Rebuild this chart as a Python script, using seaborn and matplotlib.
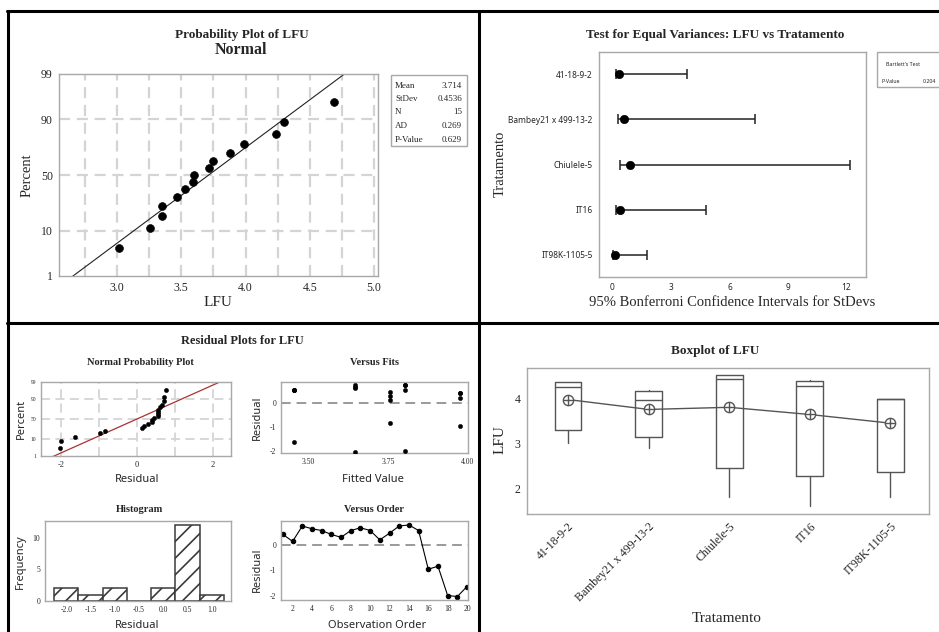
import matplotlib
matplotlib.use("Agg")
import matplotlib.pyplot as plt
from matplotlib.lines import Line2D
from matplotlib.patches import Rectangle
import numpy as np
import pandas as pd
import seaborn as sns
from statistics import NormalDist

# probability plot of LFU (N = 15)
lfu_values = [3.02, 3.26, 3.35, 3.35, 3.47, 3.53, 3.59, 3.60, 3.72, 3.75, 3.88, 3.99, 4.24, 4.30, 4.69]
lfu_mean = 3.714
lfu_sd = 0.4536
stat_names = ["Mean", "StDev", "N", "AD", "P-Value"]
stat_values = ["3.714", "0.4536", "15", "0.269", "0.629"]
pct_ticks = [1, 10, 50, 90, 99]

# test for equal variances
tratamentos = ["41-18-9-2", "Bambey21 x 499-13-2", "Chiulele-5", "IT16", "IT98K-1105-5"]
sd_low = [0.17, 0.26, 0.39, 0.17, 0.05]
sd_est = [0.34, 0.58, 0.92, 0.39, 0.13]
sd_high = [3.81, 7.30, 12.19, 4.80, 1.77]
bartlett_p = "0.204"

# observations in run order (residual plots + boxplot)
obs_lfu = [4.37, 3.88, 4.53, 4.26, 4.00,
           4.37, 4.04, 4.35, 4.30, 4.00,
           4.16, 4.20, 4.53, 4.41, 4.00,
           3.01, 2.91, 1.81, 1.61, 1.81]
obs_trat = tratamentos * 4

sns.set_style("white")
SERIF = ["Liberation Serif", "DejaVu Serif"]
SANS = ["Noto Sans", "DejaVu Sans"]
plt.rcParams["font.family"] = SERIF
plt.rcParams["axes.edgecolor"] = "#a8a8a8"
plt.rcParams["axes.linewidth"] = 1.0
plt.rcParams["axes.unicode_minus"] = False
plt.rcParams["hatch.linewidth"] = 1.2

nd = NormalDist()
def z(p):
    return nd.inv_cdf(p / 100.0)

W, H = 939, 632
fig = plt.figure(figsize=(W / 100, H / 100), dpi=100)

def axes_px(x0, y0, x1, y1):
    return fig.add_axes([x0 / W, 1 - y1 / H, (x1 - x0) / W, (y1 - y0) / H])

def text_px(x, y, s, **kw):
    kw.setdefault("ha", "center")
    kw.setdefault("va", "center")
    fig.text(x / W, 1 - y / H, s, **kw)

def ticks_style(ax, size, family=SERIF, length=2.5):
    ax.tick_params(axis="both", labelsize=size, length=length, width=0.8,
                   color="#777", pad=2, direction="out")
    for lab in ax.get_xticklabels() + ax.get_yticklabels():
        lab.set_family(family)

dash = (0, (5, 3))
grid_c = "#d4d4d4"

# ---------------- top-left: probability plot ----------------
ax = axes_px(59, 74, 378, 276)
vals = np.sort(lfu_values)
n = len(vals)
ranks = (np.arange(1, n + 1) - 0.3) / (n + 0.4)
zs = [nd.inv_cdf(r) for r in ranks]
for gx in np.arange(2.75, 5.01, 0.25):
    ax.axvline(gx, ls=dash, color=grid_c, lw=1.6, zorder=0)
for p in [10, 50, 90]:
    ax.axhline(z(p), ls=dash, color=grid_c, lw=1.6, zorder=0)
xl = np.array([2.4, 5.2])
ax.plot(xl, (xl - lfu_mean) / lfu_sd, color="#222", lw=0.8, zorder=2)
sns.scatterplot(x=vals, y=zs, ax=ax, color="black", s=32, edgecolor="black", zorder=3)
ax.set_xlim(2.55, 5.03)
ax.set_ylim(z(1), z(99))
ax.set_xticks([3.0, 3.5, 4.0, 4.5, 5.0], ["3.0", "3.5", "4.0", "4.5", "5.0"])
ax.set_yticks([z(p) for p in pct_ticks], [str(p) for p in pct_ticks])
ticks_style(ax, 8.5)
text_px(242, 35, "Probability Plot of LFU", fontsize=9.5, fontweight="bold")
text_px(241, 50, "Normal", fontsize=11.5, fontweight="bold")
text_px(27, 175, "Percent", fontsize=10.5, rotation=90)
text_px(218, 303, "LFU", fontsize=11)
fig.add_artist(Rectangle((391 / W, 1 - 146 / H), 76 / W, 71 / H, transform=fig.transFigure,
                         fill=False, edgecolor="#a8a8a8", lw=1))
for i, (nm, vv) in enumerate(zip(stat_names, stat_values)):
    yy = 85.5 + i * 13.5
    text_px(395, yy, nm, fontsize=6.5, ha="left")
    text_px(462, yy, vv, fontsize=6.5, ha="right")

# ---------------- top-right: test for equal variances ----------------
ax = axes_px(599, 52, 866, 277)
pos = np.arange(len(tratamentos))
ax.errorbar(sd_est, pos,
            xerr=[np.subtract(sd_est, sd_low), np.subtract(sd_high, sd_est)],
            fmt="none", ecolor="#222", elinewidth=1.1, capsize=3.5, capthick=1.1)
sns.scatterplot(x=sd_est, y=pos, ax=ax, color="black", s=36, edgecolor="black", zorder=3)
ax.set_ylim(len(tratamentos) - 0.51, -0.49)
ax.set_xlim(-0.69, 13.0)
ax.set_xticks([0, 3, 6, 9, 12])
ax.set_yticks(pos, tratamentos)
ticks_style(ax, 6, family=SANS)
text_px(715, 35, "Test for Equal Variances: LFU vs Tratamento", fontsize=9.5, fontweight="bold")
text_px(500, 164, "Tratamento", fontsize=10.5, rotation=90)
text_px(732, 303, "95% Bonferroni Confidence Intervals for StDevs", fontsize=10.5)
fig.add_artist(Rectangle((877 / W, 1 - 87 / H), 70 / W, 35 / H, transform=fig.transFigure,
                         fill=False, edgecolor="#a8a8a8", lw=1))
text_px(886, 65, "Bartlett's Test", fontsize=3.8, ha="left", family=SANS)
text_px(881, 81.5, "P-Value", fontsize=3.8, ha="left", family=SANS)
text_px(936, 81.5, bartlett_p, fontsize=3.8, ha="right", family=SANS)

# ---------------- bottom-left: residual plots ----------------
df = pd.DataFrame({"LFU": obs_lfu, "Tratamento": obs_trat, "Order": np.arange(1, len(obs_lfu) + 1)})
df["Fit"] = df.groupby("Tratamento")["LFU"].transform("mean")
df["Resid"] = df["LFU"] - df["Fit"]
text_px(242, 341, "Residual Plots for LFU", fontsize=9, fontweight="bold")

# normal probability plot of residuals
ax = axes_px(41, 382, 231, 456)
rs = np.sort(df["Resid"].values)
m = len(rs)
rr = (np.arange(1, m + 1) - 0.3) / (m + 0.4)
rz = [nd.inv_cdf(r) for r in rr]
for gx in [-2, -1, 0, 1, 2]:
    ax.axvline(gx, ls=dash, color=grid_c, lw=1.3, zorder=0)
for p in [10, 50, 90]:
    ax.axhline(z(p), ls=dash, color=grid_c, lw=1.3, zorder=0)
r_mu, r_sd = df["Resid"].mean(), df["Resid"].std()
xl = np.array([-3.0, 3.0])
ax.plot(xl, (xl - r_mu) / r_sd, color="#a83232", lw=0.9, zorder=2)
sns.scatterplot(x=rs, y=rz, ax=ax, color="black", s=10, edgecolor="black", zorder=3)
ax.set_xlim(-2.53, 2.48)
ax.set_ylim(z(1), z(99))
ax.set_xticks([-2, 0, 2])
ax.set_yticks([z(p) for p in pct_ticks], [str(p) for p in pct_ticks])
ticks_style(ax, 5, length=1.5)
ax.tick_params(axis="y", labelsize=4)
ax.tick_params(axis="x", labelsize=6)
text_px(140, 363, "Normal Probability Plot", fontsize=7.5, fontweight="bold")
text_px(21, 419, "Percent", fontsize=8, rotation=90, family=SANS)
text_px(137, 479, "Residual", fontsize=8, family=SANS)

# versus fits
ax = axes_px(281, 382, 468, 453)
ax.axhline(0, ls=dash, color="#9a9a9a", lw=1.4, zorder=0)
sns.scatterplot(data=df, x="Fit", y="Resid", ax=ax, color="black", s=10, edgecolor="black", zorder=3)
ax.set_xlim(3.413, 4.003)
ax.set_ylim(-2.09, 0.87)
ax.set_xticks([3.50, 3.75, 4.00], ["3.50", "3.75", "4.00"])
ax.set_yticks([-2, -1, 0])
ax.set_xlabel("")
ax.set_ylabel("")
ticks_style(ax, 5.5, length=1.5)
text_px(374, 363, "Versus Fits", fontsize=7.5, fontweight="bold")
text_px(257, 418, "Residual", fontsize=8, rotation=90, family=SANS)
text_px(373, 479, "Fitted Value", fontsize=8, family=SANS)

# histogram
ax = axes_px(45, 521, 231, 601)
edges = np.arange(-2.25, 1.26, 0.5)
sns.histplot(x=df["Resid"], bins=edges, ax=ax, color="white", edgecolor="#3a3a3a",
             hatch="//", linewidth=1.1, alpha=1)
ax.set_xlim(-2.44, 1.40)
ax.set_ylim(0, 12.6)
ax.set_xticks([-2.0, -1.5, -1.0, -0.5, 0.0, 0.5, 1.0],
              ["-2.0", "-1.5", "-1.0", "-0.5", "0.0", "0.5", "1.0"])
ax.set_yticks([0, 5, 10])
ax.set_xlabel("")
ax.set_ylabel("")
ticks_style(ax, 5.5, length=1.5)
text_px(139, 509, "Histogram", fontsize=7.5, fontweight="bold")
text_px(20, 562, "Frequency", fontsize=8, rotation=90, family=SANS)
text_px(137, 626, "Residual", fontsize=8, family=SANS)

# versus order
ax = axes_px(281, 521, 468, 600)
ax.axhline(0, ls=dash, color="#9a9a9a", lw=1.4, zorder=0)
sns.lineplot(data=df, x="Order", y="Resid", ax=ax, color="black", lw=0.8,
             marker="o", markersize=3.2, markeredgecolor="black")
ax.set_xlim(0.8, 20.1)
ax.set_ylim(-2.17, 0.92)
ax.set_xticks(range(2, 21, 2))
ax.set_yticks([-2, -1, 0])
ax.set_xlabel("")
ax.set_ylabel("")
ticks_style(ax, 5.5, length=1.5)
text_px(374, 509, "Versus Order", fontsize=7.5, fontweight="bold")
text_px(257, 570, "Residual", fontsize=8, rotation=90, family=SANS)
text_px(377, 626, "Observation Order", fontsize=8, family=SANS)

# ---------------- bottom-right: boxplot ----------------
ax = axes_px(527, 368, 929, 514)
stats = []
means = []
for t in tratamentos:
    v = df.loc[df["Tratamento"] == t, "LFU"].values
    q1, med, q3 = np.percentile(v, [25, 50, 75], method="weibull")
    stats.append(dict(med=med, q1=q1, q3=q3, whislo=v.min(), whishi=v.max(), fliers=[]))
    means.append(v.mean())
bc = "#555555"
ax.bxp(stats, positions=range(len(tratamentos)), widths=0.33, showcaps=False, showfliers=False,
       boxprops=dict(color=bc, lw=1), medianprops=dict(color=bc, lw=1),
       whiskerprops=dict(color=bc, lw=1))
sns.lineplot(x=list(range(len(tratamentos))), y=means, ax=ax, color=bc, lw=1)
ax.scatter(range(len(tratamentos)), means, marker="o", facecolors="white", edgecolors=bc, s=55, lw=1, zorder=4)
ax.scatter(range(len(tratamentos)), means, marker="+", color=bc, s=55, lw=1, zorder=5)
ax.set_xlim(-0.51, 4.48)
ax.set_ylim(1.43, 4.68)
ax.set_yticks([2, 3, 4])
ax.set_xticks(range(len(tratamentos)), tratamentos, rotation=45, ha="right", rotation_mode="anchor")
ticks_style(ax, 8.5, length=2.5)
text_px(715, 351, "Boxplot of LFU", fontsize=9.5, fontweight="bold")
text_px(500, 440, "LFU", fontsize=11, rotation=90)
text_px(727, 619, "Tratamento", fontsize=11)

# black frame around the four panels
def seg(x0, y0, x1, y1):
    fig.add_artist(Line2D([x0 / W, x1 / W], [1 - y0 / H, 1 - y1 / H], color="black", lw=2.2,
                          transform=fig.transFigure))
seg(7, 11, 939, 11)
seg(7.5, 11, 7.5, 632)
seg(479.5, 11, 479.5, 632)
seg(7, 323.5, 939, 323.5)

fig.savefig("out.png", dpi=100)
